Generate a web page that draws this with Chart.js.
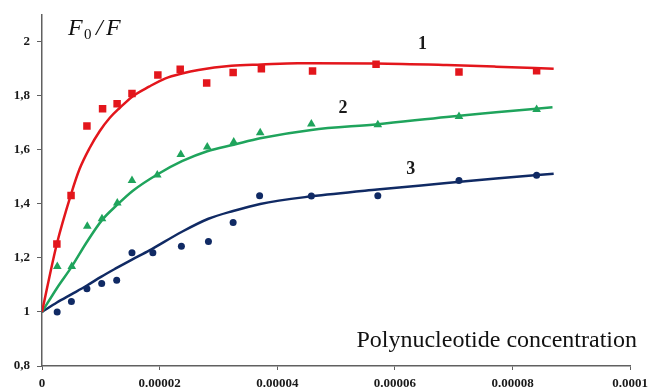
<!DOCTYPE html>
<html>
<head>
<meta charset="utf-8">
<script src="https://cdn.jsdelivr.net/npm/chart.js@4.4.1/dist/chart.umd.min.js"></script>
<style>
  html, body { margin: 0; padding: 0; background: #ffffff; }
  #wrap { width: 654px; height: 387px; position: relative; }
</style>
</head>
<body>
<div id="wrap"><canvas id="c" width="654" height="387"></canvas></div>
<script>
// ---------- data ----------
const xTickValues = [0, 0.00002, 0.00004, 0.00006, 0.00008, 0.0001];
const xTickLabels = ['0', '0.00002', '0.00004', '0.00006', '0.00008', '0.0001'];
const yTickValues = [0.8, 1.0, 1.2, 1.4, 1.6, 1.8, 2.0];
const yTickLabels = ['0,8', '1', '1,2', '1,4', '1,6', '1,8', '2'];

// measured points (series 1 = squares, 2 = triangles, 3 = circles)
const s1X = [2.53e-6, 4.94e-6, 7.64e-6, 1.03e-5, 1.277e-5, 1.53e-5, 1.97e-5, 2.35e-5, 2.80e-5, 3.25e-5, 3.73e-5, 4.60e-5, 5.68e-5, 7.09e-5, 8.41e-5];
const s1Y = [1.252, 1.431, 1.688, 1.752, 1.771, 1.809, 1.877, 1.898, 1.848, 1.886, 1.900, 1.892, 1.917, 1.888, 1.893];

const s2X = [2.6e-6, 5.06e-6, 7.7e-6, 1.02e-5, 1.28e-5, 1.53e-5, 1.96e-5, 2.36e-5, 2.81e-5, 3.26e-5, 3.71e-5, 4.58e-5, 5.71e-5, 7.09e-5, 8.41e-5];
const s2Y = [1.168, 1.168, 1.317, 1.345, 1.403, 1.487, 1.507, 1.583, 1.611, 1.629, 1.663, 1.696, 1.693, 1.724, 1.749];

const s3X = [2.58e-6, 5.0e-6, 7.64e-6, 1.015e-5, 1.27e-5, 1.53e-5, 1.885e-5, 2.37e-5, 2.83e-5, 3.25e-5, 3.70e-5, 4.58e-5, 5.71e-5, 7.09e-5, 8.41e-5];
const s3Y = [1.000, 1.039, 1.086, 1.105, 1.117, 1.219, 1.219, 1.243, 1.261, 1.331, 1.430, 1.429, 1.430, 1.487, 1.506];

// fitted curves
const c1X = [0, 2.5e-6, 5e-6, 6.4e-6, 8.1e-6, 9.8e-6, 1.15e-5, 1.32e-5, 1.54e-5, 1.82e-5, 2.1e-5, 2.38e-5, 2.66e-5, 3.22e-5, 3.73e-5, 4.35e-5, 5.68e-5, 6.88e-5, 7.72e-5, 8.7e-5];
const c1Y = [1.0, 1.25, 1.44, 1.53, 1.607, 1.669, 1.718, 1.755, 1.798, 1.834, 1.865, 1.883, 1.896, 1.911, 1.916, 1.921, 1.920, 1.914, 1.908, 1.900];

const c2X = [0, 2.53e-6, 5.06e-6, 7.6e-6, 1.02e-5, 1.28e-5, 1.54e-5, 1.96e-5, 2.38e-5, 2.81e-5, 3.26e-5, 3.71e-5, 4.58e-5, 5.71e-5, 6.88e-5, 7.72e-5, 8.68e-5];
const c2Y = [1.0, 1.088, 1.168, 1.258, 1.34, 1.397, 1.448, 1.509, 1.558, 1.595, 1.619, 1.643, 1.674, 1.695, 1.722, 1.739, 1.758];

const c3X = [0, 2.53e-6, 5.06e-6, 7.64e-6, 1.01e-5, 1.27e-5, 1.53e-5, 1.82e-5, 2.38e-5, 2.83e-5, 3.25e-5, 3.71e-5, 4.58e-5, 5.7e-5, 6.88e-5, 7.72e-5, 8.7e-5];
const c3Y = [1.0, 1.035, 1.066, 1.098, 1.131, 1.163, 1.194, 1.227, 1.297, 1.345, 1.374, 1.400, 1.428, 1.4535, 1.477, 1.494, 1.512];

const seriesNames = ['1', '2', '3'];

// ---------- styling / layout ----------
const RED = '#e3161c', GREEN = '#1fa45c', NAVY = '#102a64';
const AXIS = '#606060', TXT = '#1a1a1a';

const pts = (xs, ys) => xs.map((x, i) => ({ x: x, y: ys[i] }));

const annotations = [
  { text: seriesNames[0], x: 6.47e-5, y: 1.99 },
  { text: seriesNames[1], x: 5.12e-5, y: 1.755 },
  { text: seriesNames[2], x: 6.27e-5, y: 1.528 }
];

const textPlugin = {
  id: 'texts',
  afterDraw(chart) {
    const ctx = chart.ctx;
    const xs = chart.scales.x, ys = chart.scales.y;
    ctx.save();
    ctx.fillStyle = TXT;
    ctx.font = 'bold 18px "Liberation Serif", "Times New Roman", serif';
    ctx.textAlign = 'center';
    ctx.textBaseline = 'middle';
    annotations.forEach(a => {
      ctx.fillText(a.text, xs.getPixelForValue(a.x), ys.getPixelForValue(a.y));
    });
    // axis title
    ctx.fillStyle = '#111';
    ctx.font = '24px "Liberation Serif", "Times New Roman", serif';
    ctx.textAlign = 'right';
    ctx.textBaseline = 'alphabetic';
    ctx.fillText('Polynucleotide concentration', 637, 347);
    // F0/F
    ctx.textAlign = 'left';
    ctx.font = 'italic 24px "Liberation Serif", "Times New Roman", serif';
    ctx.fillText('F', 68, 35);
    ctx.font = '15px "Liberation Serif", "Times New Roman", serif';
    ctx.fillText('0', 84, 39);
    ctx.font = 'italic 24px "Liberation Serif", "Times New Roman", serif';
    ctx.fillText('/', 96, 35);
    ctx.fillText('F', 106, 35);
    ctx.restore();
  }
};

const tickFont = { family: '"Liberation Serif", "Times New Roman", serif', size: 13, weight: 'bold' };

new Chart(document.getElementById('c'), {
  type: 'scatter',
  data: {
    datasets: [
      { type: 'line', data: pts(c1X, c1Y), borderColor: RED, borderWidth: 2.5, pointRadius: 0, fill: false, cubicInterpolationMode: 'monotone', order: 2 },
      { type: 'line', data: pts(c2X, c2Y), borderColor: GREEN, borderWidth: 2.5, pointRadius: 0, fill: false, cubicInterpolationMode: 'monotone', order: 2 },
      { type: 'line', data: pts(c3X, c3Y), borderColor: NAVY, borderWidth: 2.5, pointRadius: 0, fill: false, cubicInterpolationMode: 'monotone', order: 2 },
      { label: seriesNames[0], data: pts(s1X, s1Y), pointStyle: 'rect', pointRadius: 5.3, backgroundColor: RED, borderColor: RED, borderWidth: 0, showLine: false, order: 1 },
      { label: seriesNames[1], data: pts(s2X, s2Y), pointStyle: 'triangle', pointRadius: 5, backgroundColor: GREEN, borderColor: GREEN, borderWidth: 0, showLine: false, order: 1 },
      { label: seriesNames[2], data: pts(s3X, s3Y), pointStyle: 'circle', pointRadius: 3.5, backgroundColor: NAVY, borderColor: NAVY, borderWidth: 0, showLine: false, order: 1 }
    ]
  },
  options: {
    responsive: false,
    maintainAspectRatio: false,
    animation: false,
    devicePixelRatio: 1,
    layout: { padding: { left: 0, top: 13, right: 19, bottom: 0 } },
    plugins: { legend: { display: false }, tooltip: { enabled: false } },
    scales: {
      x: {
        type: 'linear',
        min: 0, max: 0.0001,
        afterBuildTicks(scale) { scale.ticks = xTickValues.map(v => ({ value: v })); },
        afterFit(scale) { scale.height = 21; },
        grid: { display: true, drawOnChartArea: false, drawTicks: true, tickLength: 4, color: AXIS, lineWidth: 1 },
        border: { display: true, color: AXIS, width: 1.5 },
        ticks: {
          color: TXT, font: tickFont, padding: 6, maxRotation: 0, autoSkip: false,
          callback(v) { const i = xTickValues.indexOf(v); return i >= 0 ? xTickLabels[i] : ''; }
        }
      },
      y: {
        type: 'linear',
        min: 0.8, max: 2.1,
        afterBuildTicks(scale) { scale.ticks = yTickValues.map(v => ({ value: v })); },
        afterFit(scale) { scale.width = 42; },
        grid: { display: true, drawOnChartArea: false, drawTicks: true, tickLength: 5, color: AXIS, lineWidth: 1 },
        border: { display: true, color: AXIS, width: 1.5 },
        ticks: {
          color: TXT, font: tickFont, padding: 7, autoSkip: false,
          callback(v) {
            const i = yTickValues.findIndex(t => Math.abs(t - v) < 1e-9);
            return i >= 0 ? yTickLabels[i] : '';
          }
        }
      }
    }
  },
  plugins: [textPlugin]
});
</script>
</body>
</html>
